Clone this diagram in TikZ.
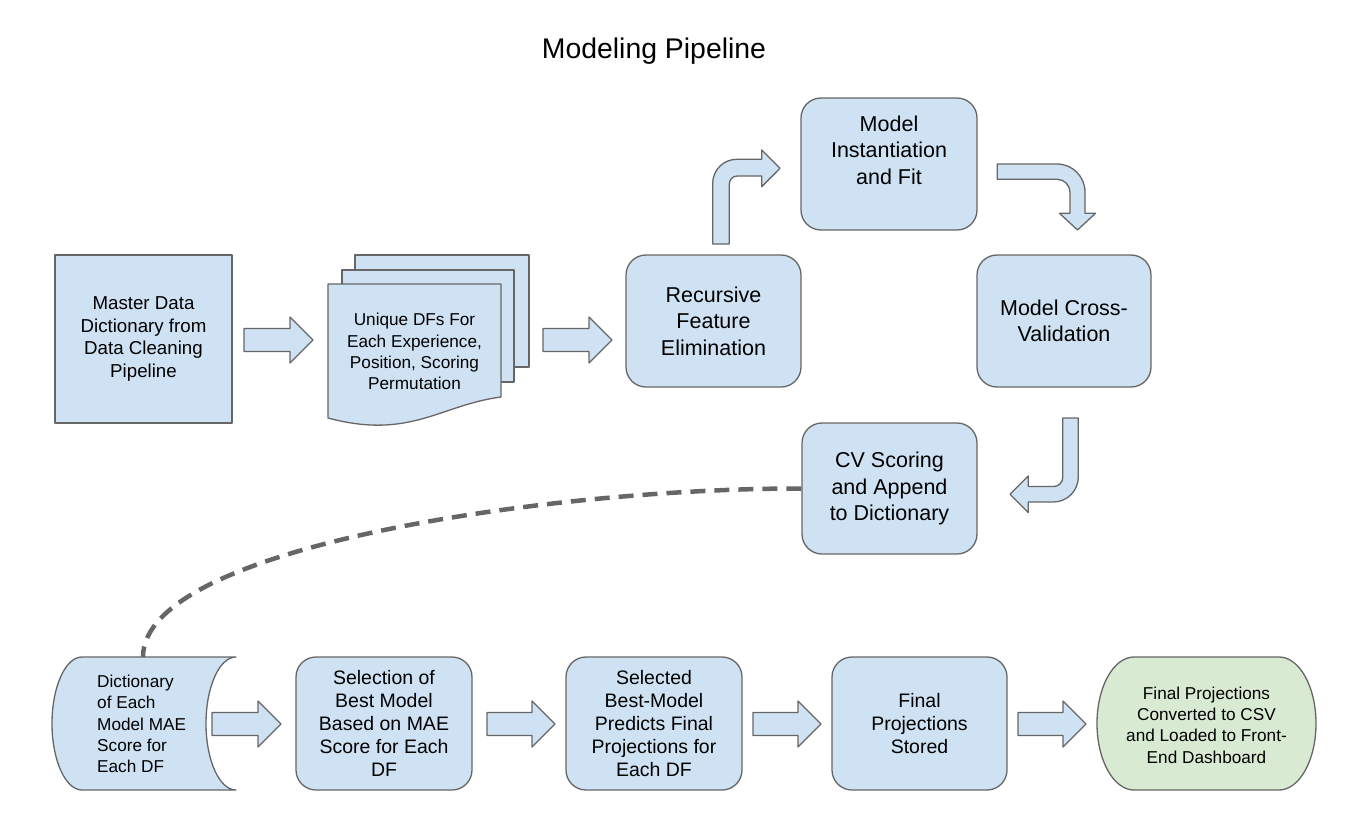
\documentclass[tikz,border=0pt]{standalone}
\usepackage{fontspec}
\setmainfont{Liberation Sans}
\definecolor{bluef}{HTML}{CFE2F3}
\definecolor{greenf}{HTML}{D9EAD3}
\definecolor{lineg}{HTML}{666666}
\tikzset{
  shp/.style={draw=lineg, fill=bluef, line width=1.3pt, line join=round},
  rbox/.style={shp, rounded corners=20pt, inner sep=0pt, align=center},
  sbox/.style={shp, inner sep=0pt, align=center},
  fbig/.style={font=\fontsize{21.5}{26.5}\selectfont},
  fmid/.style={font=\fontsize{19.5}{23}\selectfont},
  fsmall/.style={font=\fontsize{17.2}{21.3}\selectfont},
  txt/.style={inner sep=0pt, align=center},
  dashconn/.style={draw=lineg, line width=4.5pt, dash pattern=on 15pt off 9pt},
}
\newcommand\blkarrow[3]{\draw[shp] (#1,#3-11.5) -- (#2-23,#3-11.5) -- (#2-23,#3-23) -- (#2,#3) -- (#2-23,#3+23) -- (#2-23,#3+11.5) -- (#1,#3+11.5) -- cycle;}
\begin{document}
\begin{tikzpicture}[x=1pt,y=-1pt]
\useasboundingbox (0,0) rectangle (1350,822);
\fill[white] (0,0) rectangle (1350,822);

\node[font=\fontsize{28.4}{34}\selectfont, anchor=base, inner sep=0pt] (title) at (654,58) {Modeling Pipeline};

% top part
\node[sbox, minimum width=177pt, minimum height=168pt, font=\fontsize{18.7}{22.5}\selectfont] (master) at (143.5,339) {Master Data\\Dictionary from\\Data Cleaning\\Pipeline};

\draw[shp] (355,255) rectangle (529,367);
\draw[shp] (342,270) rectangle (514,382);
\draw[shp] (328,284) -- (501,284) -- (501,397) .. controls (440,405) and (410,440) .. (328,418) -- cycle;
\node[txt, fsmall] (multi) at (414.5,351.5) {Unique DFs For\\Each Experience,\\Position, Scoring\\Permutation};

\node[rbox, fbig, minimum width=175pt, minimum height=132pt] (rfe) at (713.5,321) {Recursive\\Feature\\Elimination};
\node[rbox, minimum width=176pt, minimum height=132pt] (mi) at (889,164) {};
\node[txt, fbig] (mitext) at (889,150) {Model\\Instantiation\\and Fit};
\node[rbox, fbig, minimum width=174pt, minimum height=132pt] (mcv) at (1064,321) {Model Cross-\\Validation};
\node[rbox, fbig, minimum width=175pt, minimum height=131pt] (cv) at (889.5,488.5) {CV Scoring\\and Append\\to Dictionary};

% straight block arrows
\blkarrow{244}{313}{340}
\blkarrow{543}{612}{340}
\blkarrow{212}{281}{724}
\blkarrow{487}{555}{724}
\blkarrow{753}{821}{724}
\blkarrow{1018}{1086}{724}

% bent arrow up-right
\draw[shp] (712.7,244) -- (712.7,183.3) .. controls (712.7,170.05) and (723.45,159.3) .. (736.7,159.3)
  -- (761.7,159.3) -- (761.7,150) -- (780,168.3) -- (761.7,186.7) -- (761.7,176)
  -- (737.3,176) .. controls (732.9,176) and (729.3,179.6) .. (729.3,184) -- (729.3,244) -- cycle;
% bent arrow right-down
\draw[shp] (997.3,164) -- (1057,164) .. controls (1072.5,164) and (1085,176.5) .. (1085,192)
  -- (1085,213.3) -- (1095.5,213.3) -- (1077.5,230) -- (1059.5,213.3) -- (1070,213.3)
  -- (1070,192.3) .. controls (1070,185.1) and (1064.2,179.3) .. (1057,179.3) -- (997.3,179.3) -- cycle;
% bent arrow down-left
\draw[shp] (1078.3,418) -- (1078.3,477) .. controls (1078.3,490.8) and (1067.1,502) .. (1053.3,502)
  -- (1028.3,502) -- (1028.3,512.5) -- (1010,494.25) -- (1028.3,476) -- (1028.3,486.5)
  -- (1053.7,486.5) .. controls (1058.7,486.5) and (1062.7,482.5) .. (1062.7,477.5) -- (1062.7,418) -- cycle;

% bottom row
\draw[shp] (82,657) -- (236,657) .. controls (219.43,657) and (206,686.77) .. (206,723.5)
  .. controls (206,760.23) and (219.43,790) .. (236,790) -- (82,790)
  .. controls (65.43,790) and (52,760.23) .. (52,723.5)
  .. controls (52,686.77) and (65.43,657) .. (82,657) -- cycle;
\node[txt, fsmall, align=left, anchor=west] (dict) at (97,724) {Dictionary\\of Each\\Model MAE\\Score for\\Each DF};
\coordinate (dictTop) at (143,657);

\node[rbox, fmid, minimum width=176pt, minimum height=133pt] (sel) at (384,723.5) {Selection of\\Best Model\\Based on MAE\\Score for Each\\DF};
\node[rbox, fmid, minimum width=176pt, minimum height=133pt] (pred) at (654,723.5) {Selected\\Best-Model\\Predicts Final\\Projections for\\Each DF};
\node[rbox, fmid, minimum width=175pt, minimum height=133pt] (final) at (919.5,723.5) {Final\\Projections\\Stored};

\draw[shp, fill=greenf] (1134,657) -- (1279,657) .. controls (1299.4,657) and (1316,686.77) .. (1316,723.5)
  .. controls (1316,760.23) and (1299.4,790) .. (1279,790) -- (1134,790)
  .. controls (1113.6,790) and (1097,760.23) .. (1097,723.5)
  .. controls (1097,686.77) and (1113.6,657) .. (1134,657) -- cycle;
\node[txt, fsmall] (csv) at (1206.5,725) {Final Projections\\Converted to CSV\\and Loaded to Front-\\End Dashboard};

% dashed connector
\draw[dashconn] (cv.west) .. controls (560,488) and (143,545) .. (dictTop);
\end{tikzpicture}
\end{document}
